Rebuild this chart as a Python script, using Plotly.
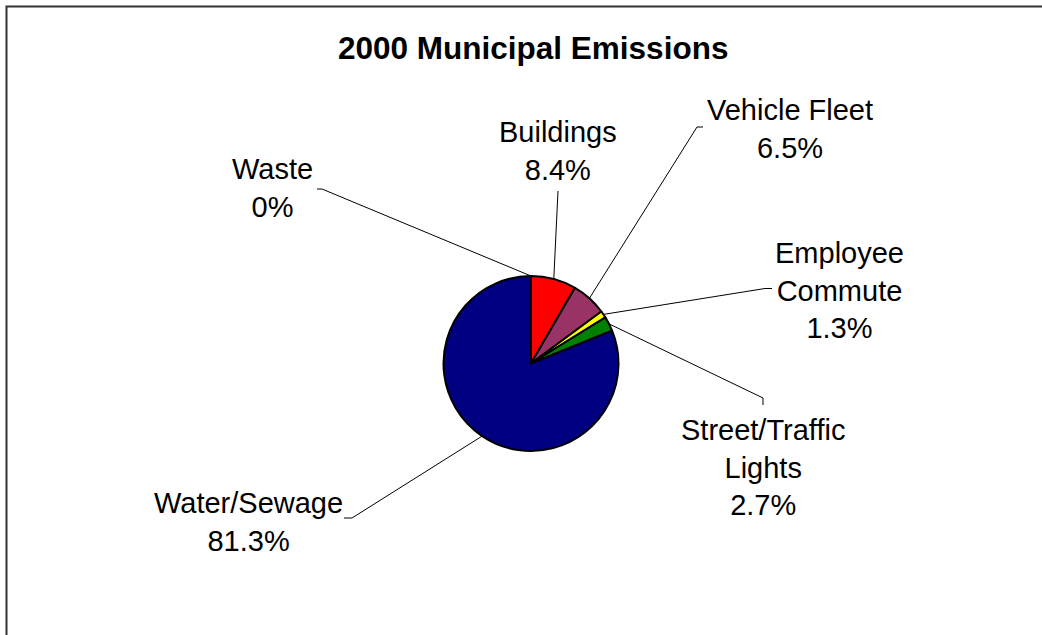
import math
import plotly.graph_objects as go

# ---- data ----
categories = ["Waste", "Buildings", "Vehicle Fleet", "Employee Commute",
              "Street/Traffic Lights", "Water/Sewage"]
values = [0.0, 8.4, 6.5, 1.3, 2.7, 81.3]
pct_labels = ["0%", "8.4%", "6.5%", "1.3%", "2.7%", "81.3%"]
label_lines = ["Waste", "Buildings", "Vehicle Fleet", "Employee<br>Commute",
               "Street/Traffic<br>Lights", "Water/Sewage"]
colors = ["#C0C0C0", "#FF0000", "#993366", "#FFFF00", "#008000", "#000080"]

# ---- layout (pixels) ----
W, H = 1042, 635
CX, CY, R = 531, 363.5, 87.5
# label centre, leader elbow, leader end (layout positions)
label_pos = [(272.5, 188), (558, 151), (790, 129), (839, 290), (763, 467), (248, 522)]
elbows = [(322, 189), (558, 191), (697, 127), (765, 288.5), (763, 398), (352, 518)]
ends = [(317, 189), None, (703, 127), (772, 288.5), (763, 405), (344, 518)]

FONT = "Liberation Sans, Arial, sans-serif"


def px(x):
    return x / W


def py(y):
    return 1 - y / H


fig = go.Figure(go.Pie(
    labels=categories, values=values, sort=False, direction="clockwise",
    rotation=0, textinfo="none", hoverinfo="label+percent",
    marker=dict(colors=colors, line=dict(color="black", width=2)),
    domain=dict(x=[px(CX - R), px(CX + R)], y=[py(CY + R), py(CY - R)]),
    showlegend=False,
))

total = sum(values)
shapes = []
annotations = []
cum = 0.0
for i, v in enumerate(values):
    mid = (cum + v / 2) / total * 2 * math.pi
    cum += v
    ix = CX + R * math.sin(mid)
    iy = CY - R * math.cos(mid)
    pts = [(ix, iy), elbows[i]]
    if ends[i] is not None:
        pts.append(ends[i])
    path = "M " + " L ".join(f"{px(x):.5f},{py(y):.5f}" for x, y in pts)
    shapes.append(dict(type="path", path=path, xref="paper", yref="paper",
                       line=dict(color="black", width=1)))
    lx, ly = label_pos[i]
    annotations.append(dict(
        text=f"{label_lines[i]}<br>{pct_labels[i]}", x=px(lx), y=py(ly),
        xref="paper", yref="paper", xanchor="center", yanchor="middle",
        showarrow=False, align="center",
        font=dict(family=FONT, size=29, color="black")))

# chart border
shapes.append(dict(type="rect", xref="paper", yref="paper",
                   x0=px(6.5), x1=1.05, y0=-0.05, y1=py(6.5),
                   line=dict(color="#333333", width=2)))

annotations.append(dict(
    text="<b>2000 Municipal Emissions</b>", x=px(533), y=py(48),
    xref="paper", yref="paper", xanchor="center", yanchor="middle",
    showarrow=False, font=dict(family=FONT, size=31.5, color="black")))

fig.update_layout(
    width=W, height=H, margin=dict(l=0, r=0, t=0, b=0),
    paper_bgcolor="white", plot_bgcolor="white",
    shapes=shapes, annotations=annotations,
)

fig.write_html(
    "out.html",
    config={"displayModeBar": False},
    post_script="document.body.style.margin='0';document.body.style.overflow='hidden';",
)
